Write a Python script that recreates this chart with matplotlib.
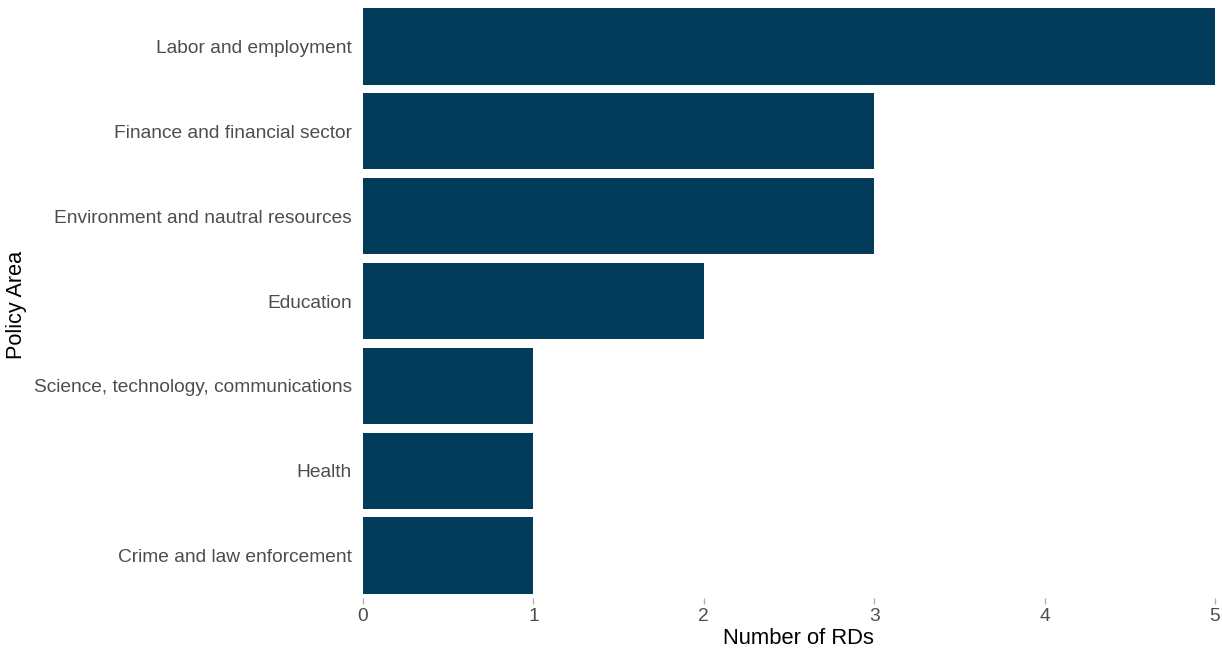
import matplotlib
matplotlib.use("Agg")
import matplotlib.pyplot as plt

categories = ["Labor and employment", "Finance and financial sector",
              "Environment and nautral resources", "Education",
              "Science, technology, communications", "Health",
              "Crime and law enforcement"]
values = [5, 3, 3, 2, 1, 1, 1]
xticks = [0, 1, 2, 3, 4, 5]

plt.rcParams['font.family'] = ['Liberation Sans', 'DejaVu Sans']
fig = plt.figure(figsize=(12.22, 6.49), dpi=100)
ax = fig.add_axes([363/1222, 51/649, 852/1222, 594/649])

pos = list(range(len(categories)))
ax.barh(pos, values, height=0.9, color="#033C5A")
ax.set_ylim(len(categories) - 0.5, -0.5)
ax.set_xlim(0, 5)
ax.set_yticks(pos)
ax.set_yticklabels(categories, fontsize=13.8, color="#4D4D4D")
ax.set_xticks(xticks)
ax.set_xticklabels([str(t) for t in xticks], fontsize=13.8, color="#4D4D4D")
ax.tick_params(axis='y', length=0, pad=8)
ax.tick_params(axis='x', length=4, width=1, color="#B0B0B0", pad=3)
for s in ax.spines.values():
    s.set_visible(False)
fig.text(798/1222, 1 - 638/649, "Number of RDs", fontsize=15.8, color="black",
         ha="center", va="center")
fig.text(17/1222, 1 - 305/649, "Policy Area", fontsize=15.6, color="black",
         ha="center", va="center", rotation=90)
fig.savefig("out.png", dpi=100, facecolor="white")
